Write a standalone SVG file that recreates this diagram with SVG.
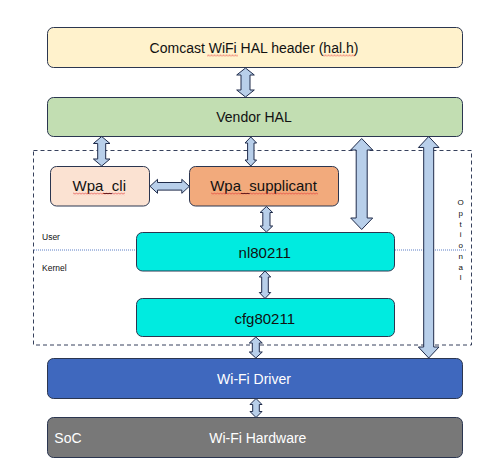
<svg xmlns="http://www.w3.org/2000/svg" width="499" height="468" viewBox="0 0 499 468">
<style>
.box{stroke:#2b3650;stroke-width:1}
.t{font-family:"Liberation Sans",Arial,sans-serif;text-anchor:middle;fill:#111}
.w{fill:#fff}
.arr{fill:#b8cfea;stroke:#1f2b4a;stroke-width:1;stroke-linejoin:miter}
.sm{font-family:"Liberation Sans",Arial,sans-serif;font-size:8.5px;fill:#111}
.opt{font-family:"Liberation Sans",Arial,sans-serif;font-size:8px;fill:#111;text-anchor:middle}
</style>
<defs>
<pattern id="sq" width="3" height="2.6" patternUnits="userSpaceOnUse"><path d="M0,2.1 L1.5,0.5 L3,2.1" stroke="#e03030" fill="none" stroke-width="0.7"/></pattern>
</defs>
<rect width="499" height="468" fill="#fff"/>
<g id="optional-region">
<rect x="33.5" y="150.5" width="438" height="194.5" fill="none" stroke="#1f2b4a" stroke-width="0.9" stroke-dasharray="4,3"/>
<line x1="34" y1="250" x2="136" y2="250" stroke="#4a6fc0" stroke-width="0.9" stroke-dasharray="1,1"/>
<line x1="395" y1="250" x2="467" y2="250" stroke="#4a6fc0" stroke-width="0.9" stroke-dasharray="1,1"/>
<text class="sm" x="42" y="240">User</text>
<text class="sm" x="42" y="271">Kernel</text>
<text class="opt" x="460.7" y="205">O</text>
<text class="opt" x="460.7" y="216">p</text>
<text class="opt" x="460.7" y="226.5">t</text>
<text class="opt" x="460.7" y="237">i</text>
<text class="opt" x="460.7" y="248">o</text>
<text class="opt" x="460.7" y="259">n</text>
<text class="opt" x="460.7" y="269.5">a</text>
<text class="opt" x="460.7" y="280">l</text>
</g>
<g id="hal-header">
<rect class="box" x="47.5" y="27.5" width="415" height="40" rx="6" fill="#fff2cc"/>
<text class="t" x="254" y="53" font-size="14">Comcast WiFi HAL header (hal.h)</text>
<rect x="207" y="54" width="31" height="2.6" fill="url(#sq)"/>
<rect x="323" y="54" width="32" height="2.6" fill="url(#sq)"/>
</g>
<g id="vendor-hal">
<rect class="box" x="47.5" y="97.5" width="415" height="39" rx="6" fill="#c2deb2"/>
<text class="t" x="254" y="122" font-size="14">Vendor HAL</text>
</g>
<g id="wpa-cli">
<rect class="box" x="50.5" y="166.5" width="99" height="39.5" rx="6" fill="#fbe2d2"/>
<text class="t" x="99.3" y="191" font-size="15">Wpa_cli</text>
<rect x="73" y="192.5" width="52" height="2.6" fill="url(#sq)"/>
</g>
<g id="wpa-supplicant">
<rect class="box" x="189.5" y="166.5" width="149" height="39.5" rx="6" fill="#f2aa7c"/>
<text class="t" x="263.5" y="191" font-size="15">Wpa_supplicant</text>
<rect x="211" y="192.5" width="107" height="2.6" fill="url(#sq)"/>
</g>
<g id="nl80211">
<rect class="box" x="136.5" y="232.5" width="258" height="38.5" rx="6" fill="#00ebe0"/>
<text class="t" x="264.7" y="257.5" font-size="15">nl80211</text>
</g>
<g id="cfg80211">
<rect class="box" x="136.5" y="298.5" width="258" height="38" rx="6" fill="#00ebe0"/>
<text class="t" x="264.7" y="323.5" font-size="15">cfg80211</text>
</g>
<g id="wifi-driver">
<rect class="box" x="47.5" y="358.5" width="415" height="40" rx="6" fill="#3f68be"/>
<text class="t w" x="254" y="383.5" font-size="14">Wi-Fi Driver</text>
</g>
<g id="wifi-hardware">
<rect class="box" x="47.5" y="417.5" width="415" height="40" rx="6" fill="#787878"/>
<text class="t w" x="257.8" y="442.5" font-size="14">Wi-Fi Hardware</text>
<text class="t w" x="54.3" y="442.5" font-size="14" text-anchor="start" style="text-anchor:start">SoC</text>
</g>
<g id="connectors">
<polygon class="arr" points="245.5,68 254.3,75 250,75 250,90 254.3,90 245.5,97 236.7,90 241,90 241,75 236.7,75"/>
<polygon class="arr" points="101.7,136.5 110,143.5 105.7,143.5 105.7,159 110,159 101.7,166 93.4,159 97.7,159 97.7,143.5 93.4,143.5"/>
<polygon class="arr" points="250.8,137 256.6,143 254,143 254,160 256.6,160 250.8,166 245,160 247.6,160 247.6,143 245,143"/>
<polygon class="arr" points="361.7,138.5 372.7,150 367.2,150 367.2,218 372.7,218 361.7,229.5 350.7,218 356.2,218 356.2,150 350.7,150"/>
<polygon class="arr" points="428.7,136.5 439,147.5 433.7,147.5 433.7,347 439,347 428.7,358 418.4,347 423.7,347 423.7,147.5 418.4,147.5"/>
<polygon class="arr" points="150,186.3 157.5,179.3 157.5,182.5 181.8,182.5 181.8,179.3 189.3,186.3 181.8,193.3 181.8,190.1 157.5,190.1 157.5,193.3"/>
<polygon class="arr" points="266.4,206.5 272.7,212.5 270,212.5 270,226 272.7,226 266.4,232 260.1,226 262.8,226 262.8,212.5 260.1,212.5"/>
<polygon class="arr" points="265,271 270.7,277 268.3,277 268.3,292.5 270.7,292.5 265,298.5 259.3,292.5 261.7,292.5 261.7,277 259.3,277"/>
<polygon class="arr" points="255.8,337 262.3,343 259.3,343 259.3,352 262.3,352 255.8,358 249.3,352 252.3,352 252.3,343 249.3,343"/>
<polygon class="arr" points="256,398.5 262,404.5 259.3,404.5 259.3,411.5 262,411.5 256,417.5 250,411.5 252.7,411.5 252.7,404.5 250,404.5"/>
</g>
</svg>
